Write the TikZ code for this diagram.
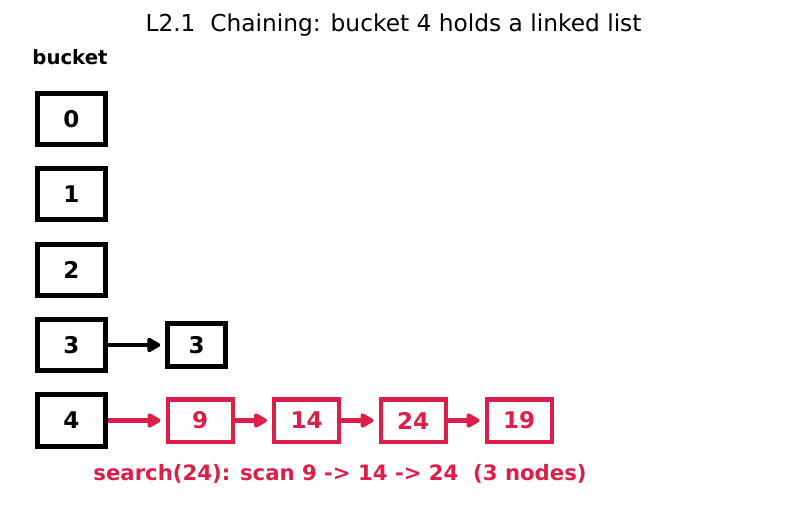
\documentclass[tikz,border=0pt]{standalone}
\usepackage{fontspec}
\setmainfont{DejaVu Sans}
\usetikzlibrary{arrows.meta}
\definecolor{hot}{RGB}{220,30,72}
\tikzset{
  numfont/.style={font=\fontsize{23}{26}\selectfont\bfseries},
  bbox/.style={draw=black, line width=5pt, minimum width=68pt, minimum height=51pt, inner sep=0pt, numfont},
  cbox/.style={draw=black, line width=4.5pt, minimum width=58pt, minimum height=43pt, inner sep=0pt, numfont},
  rbox/.style={draw=hot, text=hot, line width=4pt, minimum width=65pt, minimum height=42pt, inner sep=0pt, numfont},
  karr/.style={line width=4.5pt, shorten >=5pt, -{Triangle[length=15pt,width=16pt,round]}},
  rarr/.style={draw=hot, line width=4.5pt, shorten >=5pt, -{Triangle[length=15pt,width=16pt,round]}, color=hot},
}
\begin{document}
\begin{tikzpicture}[x=1pt,y=-1pt]
\useasboundingbox (0,0) rectangle (787,510);
\node[font=\fontsize{23.3}{26}\selectfont] (title) at (393.5,25) {L2.1\ \ Chaining: bucket 4 holds a linked list};
\node[font=\fontsize{19.7}{22}\selectfont\bfseries] (blabel) at (70,57) {bucket};
\node[bbox] (b0) at (71.5,119) {0};
\node[bbox] (b1) at (71.5,194.5) {1};
\node[bbox] (b2) at (71.5,270) {2};
\node[bbox] (b3) at (71.5,345) {3};
\node[bbox] (b4) at (71.5,420.5) {4};
\node[cbox] (c3) at (196.5,345) {3};
\node[rbox] (n9) at (200,420.5) {9};
\node[rbox] (n14) at (306.5,420.5) {14};
\node[rbox] (n24) at (413,420.5) {24};
\node[rbox] (n19) at (519,420.5) {19};
\draw[karr] (b3.east) -- (c3.west);
\draw[rarr] (b4.east) -- (n9.west);
\draw[rarr] (n9.east) -- (n14.west);
\draw[rarr] (n14.east) -- (n24.west);
\draw[rarr] (n24.east) -- (n19.west);
\node[text=hot, font=\fontsize{21.2}{24}\selectfont\bfseries] (note) at (340,474) {search(24): scan 9 -> 14 -> 24\ \ (3 nodes)};
\end{tikzpicture}
\end{document}
